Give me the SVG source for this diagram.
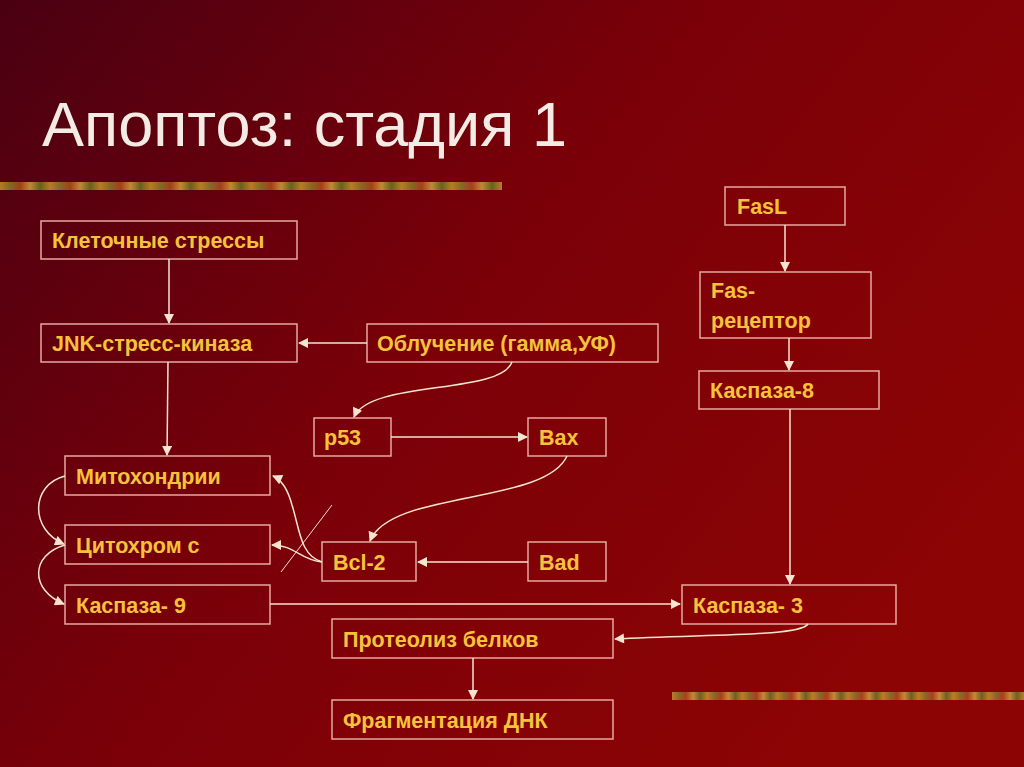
<svg xmlns="http://www.w3.org/2000/svg" width="1024" height="767" viewBox="0 0 1024 767">
<defs>
<linearGradient id="bg" x1="0" y1="0" x2="1" y2="0.6">
<stop offset="0" stop-color="#4a0012"/><stop offset="0.5" stop-color="#7a0008"/><stop offset="1" stop-color="#8c0404"/>
</linearGradient>
<linearGradient id="bar" x1="0" y1="0" x2="0.1" y2="0" spreadMethod="repeat">
<stop offset="0" stop-color="#c8902a"/><stop offset="0.2" stop-color="#8a7a30"/><stop offset="0.4" stop-color="#b04a20"/><stop offset="0.6" stop-color="#d0a040"/><stop offset="0.8" stop-color="#6a7028"/><stop offset="1" stop-color="#c8902a"/>
</linearGradient>
<marker id="ar" viewBox="0 0 10 10" refX="9" refY="5" markerWidth="11" markerHeight="10" orient="auto" markerUnits="userSpaceOnUse"><path d="M0,0 L10,5 L0,10 z" fill="#f4e4d0"/></marker>
<style>
.b rect{fill:none;stroke:#e8a8a0;stroke-width:1.5}
.b text{font-family:"Liberation Sans",Arial,sans-serif;font-weight:bold;font-size:21.5px;fill:#f5c23a}
#c path{fill:none;stroke:#f4e4d0;stroke-width:1.5}
</style>
</defs>
<rect width="1024" height="767" fill="url(#bg)"/>
<rect x="0" y="182" width="502" height="8" fill="url(#bar)" opacity="0.85"/>
<rect x="672" y="692" width="352" height="8" fill="url(#bar)" opacity="0.85"/>
<text x="42" y="146" font-family="'Liberation Sans',Arial,sans-serif" font-size="63" fill="#f4ece4">Апоптоз: стадия 1</text>
<g id="n1" class="b"><rect x="41" y="221" width="256" height="38"/><text x="52" y="248">Клеточные стрессы</text></g>
<g id="n2" class="b"><rect x="41" y="324" width="256" height="38"/><text x="52" y="351">JNK-стресс-киназа</text></g>
<g id="n3" class="b"><rect x="367" y="324" width="291" height="38"/><text x="377" y="351">Облучение (гамма,УФ)</text></g>
<g id="n4" class="b"><rect x="314" y="418" width="77" height="38"/><text x="324" y="445">p53</text></g>
<g id="n5" class="b"><rect x="528" y="418" width="78" height="38"/><text x="539" y="445">Bax</text></g>
<g id="n6" class="b"><rect x="65" y="456" width="205" height="39"/><text x="76" y="484">Митохондрии</text></g>
<g id="n7" class="b"><rect x="65" y="525" width="205" height="39"/><text x="76" y="553">Цитохром с</text></g>
<g id="n8" class="b"><rect x="322" y="542" width="94" height="39"/><text x="333" y="570">Bcl-2</text></g>
<g id="n9" class="b"><rect x="528" y="542" width="78" height="39"/><text x="539" y="570">Bad</text></g>
<g id="n10" class="b"><rect x="65" y="585" width="205" height="39"/><text x="76" y="613">Каспаза- 9</text></g>
<g id="n11" class="b"><rect x="682" y="585" width="214" height="39"/><text x="693" y="613">Каспаза- 3</text></g>
<g id="n12" class="b"><rect x="332" y="619" width="281" height="39"/><text x="343" y="647">Протеолиз белков</text></g>
<g id="n13" class="b"><rect x="332" y="700" width="281" height="39"/><text x="343" y="728">Фрагментация ДНК</text></g>
<g id="n14" class="b"><rect x="725" y="187" width="120" height="38"/><text x="737" y="214">FasL</text></g>
<g id="n15" class="b"><rect x="700" y="272" width="171" height="66"/><text x="711" y="298">Fas-</text><text x="711" y="328">рецептор</text></g>
<g id="n16" class="b"><rect x="699" y="371" width="180" height="38"/><text x="710" y="398">Каспаза-8</text></g>
<g id="c">
<path d="M169,259 V323" marker-end="url(#ar)"/>
<path d="M367,343 H299" marker-end="url(#ar)"/>
<path d="M168,362 L167,455" marker-end="url(#ar)"/>
<path d="M512,362 C500,395 370,380 354,417" marker-end="url(#ar)"/>
<path d="M391,437 H527" marker-end="url(#ar)"/>
<path d="M567,456 C545,505 390,490 370,541" marker-end="url(#ar)"/>
<path d="M528,562 H418" marker-end="url(#ar)"/>
<path d="M322,562 C300,555 300,530 292,505 C288,490 282,480 273,476" marker-end="url(#ar)"/>
<path d="M322,562 C300,560 295,545 272,545" marker-end="url(#ar)"/>
<path d="M332,505 L281,572" style="stroke-width:1"/>
<path d="M65,476 C30,485 30,530 64,544" marker-end="url(#ar)"/>
<path d="M65,545 C30,555 30,590 64,604" marker-end="url(#ar)"/>
<path d="M270,604 H680" marker-end="url(#ar)"/>
<path d="M785,225 V271" marker-end="url(#ar)"/>
<path d="M789,338 V370" marker-end="url(#ar)"/>
<path d="M790,409 V584" marker-end="url(#ar)"/>
<path d="M808,624 C800,637 700,634 615,639" marker-end="url(#ar)"/>
<path d="M473,658 V699" marker-end="url(#ar)"/>
</g>
</svg>
